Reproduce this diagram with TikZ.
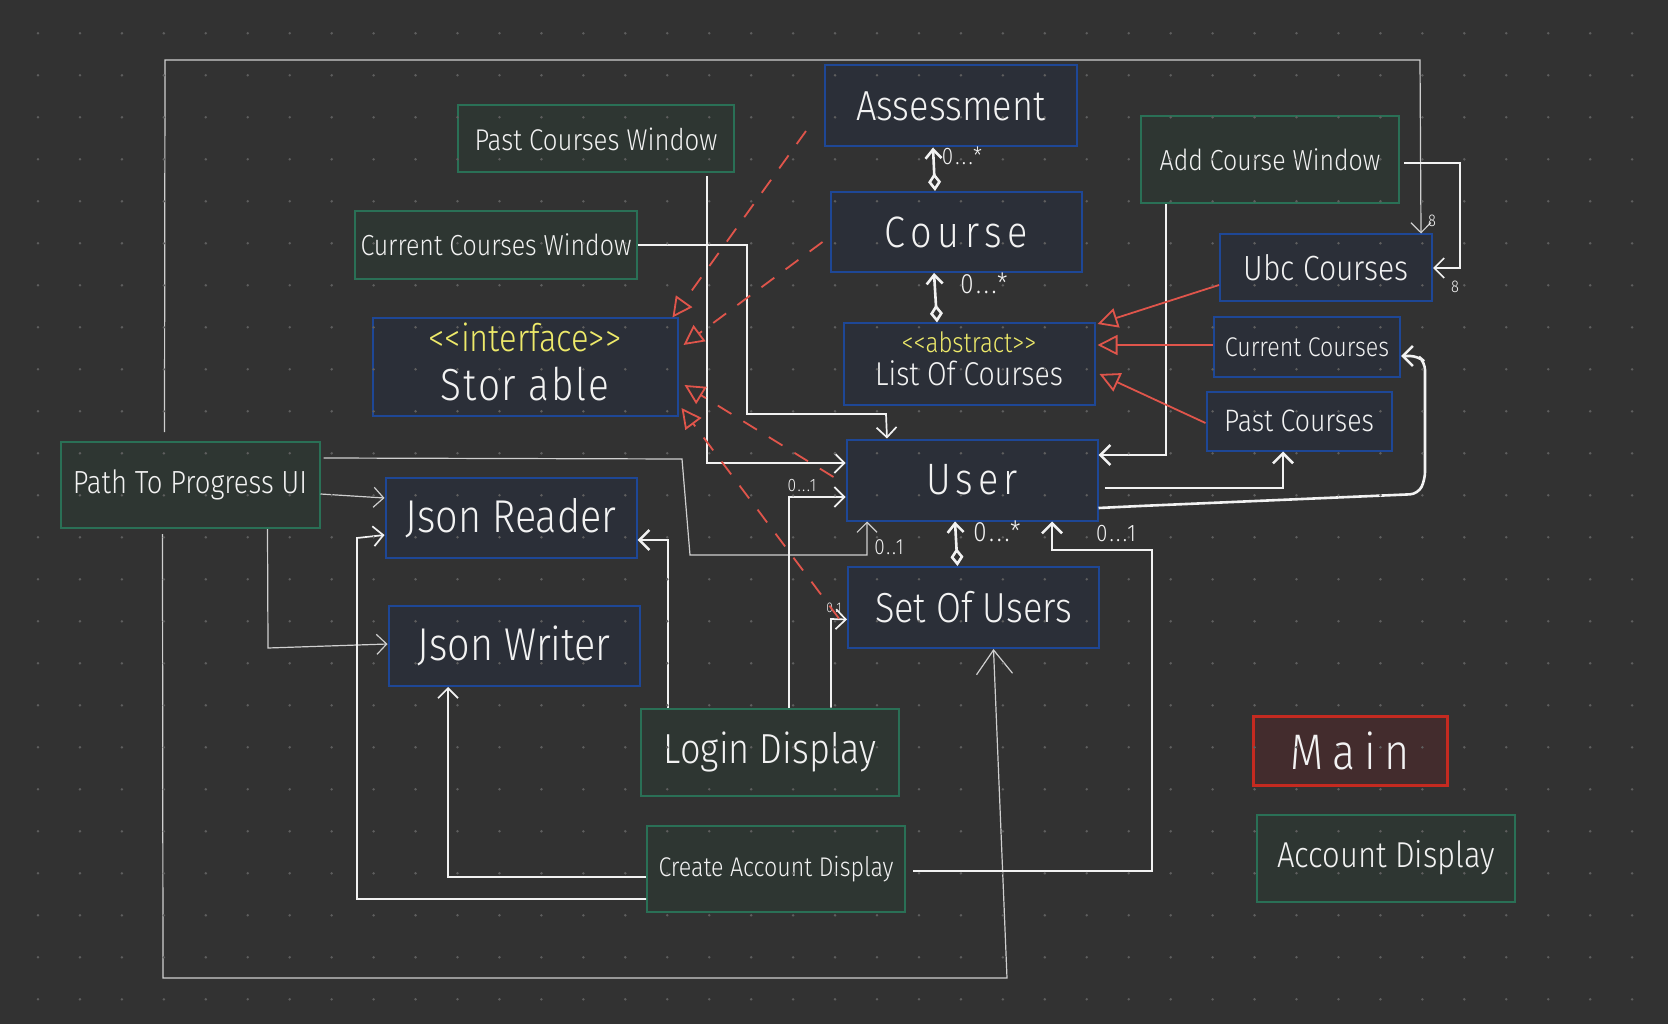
\documentclass[tikz,border=0pt]{standalone}
\usepackage{fontspec}
\setmainfont{Fira Sans Light}[FakeStretch=0.86]
\usetikzlibrary{arrows.meta}
\definecolor{bgc}{HTML}{323232}
\definecolor{dotc}{HTML}{5E5E5E}
\definecolor{blueF}{HTML}{2B2F38}
\definecolor{blueB}{HTML}{1E4796}
\definecolor{greenF}{HTML}{2E3632}
\definecolor{greenB}{HTML}{2A7056}
\definecolor{redF}{HTML}{432C2D}
\definecolor{redB}{HTML}{C52A20}
\definecolor{inkc}{HTML}{F2F2F2}
\definecolor{grayln}{HTML}{CFCFCF}
\definecolor{realc}{HTML}{E0554B}
\definecolor{yelc}{HTML}{EEEA6A}
\newcommand\hsz[1]{\fontsize{#1}{#1}\selectfont}
\newcommand\lsp[1]{\addfontfeature{LetterSpace=#1}}
\begin{document}
\begin{tikzpicture}[x=1pt,y=-1pt,
  box/.style={rectangle, line width=2pt, inner sep=0pt, text=inkc, align=center},
  cls/.style={box, draw=blueB, fill=blueF},
  gui/.style={box, draw=greenB, fill=greenF},
  mainbox/.style={box, draw=redB, fill=redF, line width=3pt},
  wire/.style={draw=inkc, line width=1.7pt},
  fine/.style={draw=grayln, line width=1.2pt},
  heavy/.style={draw=inkc, line width=2.6pt},
  realize/.style={draw=realc, line width=1.8pt, dash pattern=on 16pt off 14pt},
  inherit/.style={draw=realc, line width=1.8pt},
  opn/.style={-{Straight Barb[length=10pt,width=20pt]}},
  tri/.style={-{Triangle[open,length=20pt,width=20pt,line width=1.8pt]}},
  agg/.style={{Diamond[open,length=18pt,width=13pt]}-{Straight Barb[length=9pt,width=16pt]}},
  mult/.style={text=inkc, inner sep=0pt},
]
\fill[bgc] (0,0) rectangle (1668,1024);
\useasboundingbox (0,0) rectangle (1668,1024);

% classes
\node[cls, minimum width=252pt, minimum height=81pt, font=\hsz{42}] (asm) at (951,106) {Assessment};
\node[cls, minimum width=251pt, minimum height=80pt, font=\hsz{44}\lsp{13}] (crs) at (956,232) {Course};
\node[cls, minimum width=251pt, minimum height=81pt, font=\hsz{33}] (loc) at (969,364) {{\color{yelc}\hsz{28}<{}<abstract>{}>}\\[0pt]List Of Courses\rule[-10pt]{0pt}{10pt}};
\node[cls, minimum width=251pt, minimum height=81pt, font=\hsz{44}\lsp{11}] (usr) at (972,480) {User};
\node[cls, minimum width=251pt, minimum height=81pt, font=\hsz{42}] (sou) at (973.5,607.5) {Set Of Users};
\node[cls, minimum width=212pt, minimum height=67pt, font=\hsz{35}] (ubc) at (1326,268) {Ubc Courses};
\node[cls, minimum width=186pt, minimum height=60pt, font=\hsz{27}] (cur) at (1307,347) {Current Courses};
\node[cls, minimum width=185pt, minimum height=59pt, font=\hsz{31}] (pst) at (1299,421) {Past Courses};
\node[cls, minimum width=305pt, minimum height=97pt, font=\hsz{45}\lsp{4}] (sto) at (525,367) {{\color{yelc}\hsz{38}\lsp{0}<{}<interface>{}>}\\[4pt]Stor able\rule[-10pt]{0pt}{10pt}};
\node[cls, minimum width=251pt, minimum height=80pt, font=\hsz{46}] (jr) at (511,518) {Json Reader};
\node[cls, minimum width=251pt, minimum height=80pt, font=\hsz{46}] (jw) at (514,646) {Json Writer};

% gui
\node[gui, minimum width=258pt, minimum height=87pt, font=\hsz{29}] (acw) at (1270,160) {Add Course Window};
\node[gui, minimum width=276pt, minimum height=67pt, font=\hsz{30}] (pcw) at (596,139) {Past Courses Window};
\node[gui, minimum width=282pt, minimum height=68pt, font=\hsz{29}] (ccw) at (496,245) {Current Courses Window};
\node[gui, minimum width=259pt, minimum height=86pt, font=\hsz{32}] (ptp) at (190,485) {Path To Progress UI};
\node[gui, minimum width=258pt, minimum height=87pt, font=\hsz{42}] (ld) at (770,752) {Login Display};
\node[gui, minimum width=258pt, minimum height=86pt, font=\hsz{27}] (cad) at (776,869) {Create Account Display};
\node[gui, minimum width=258pt, minimum height=87pt, font=\hsz{36}] (ad) at (1386,858) {Account Display};
\node[mainbox, minimum width=194pt, minimum height=69pt, font=\hsz{50}\lsp{18}] (main) at (1350,751) {Main};

% frame connectors
\draw[fine, opn] ([xshift=105pt,yshift=9pt]ptp.north west) -- (165,60) -- (1420,60) -- ([xshift=-12pt]ubc.north east);
\node[mult, font=\hsz{17}] (n8a) at (1432,221) {8};
\draw[fine, -{Straight Barb[length=24pt,width=36pt]}] ([xshift=103pt,yshift=-5pt]ptp.south west) -- (163,978) -- (1007,978) -- ([xshift=20pt]sou.south);
\draw[fine, opn] ([yshift=-9pt]ptp.east) -- ([yshift=20pt]jr.west);
\draw[fine, opn] ([xshift=208pt]ptp.south west) -- (268,648) -- ([yshift=2pt]jw.west);
\draw[fine, opn] ([xshift=3pt,yshift=-17pt]ptp.north east) -- (682,459) -- (690,555) -- (867,555) -- ([xshift=-105pt]usr.south);
\node[mult, font=\hsz{22}\lsp{8}] (m01a) at (889,547) {0..1};

% windows
\draw[wire, opn] ([xshift=111pt,yshift=-3pt]pcw.south) -- (707,463) -- ([yshift=17pt]usr.west);
\draw[wire, opn] (ccw.east) -- (747,245) -- (747,414) -- (886,414) -- ([xshift=-85pt]usr.north);
\draw[wire, opn] ([xshift=4pt,yshift=-3pt]acw.east) -- (1460,163) -- (1460,268) -- (ubc.east);
\node[mult, font=\hsz{17}] (n8b) at (1455,287) {8};
\draw[heavy, opn] ([xshift=-104pt]acw.south) -- (1166,455) -- ([yshift=25pt]usr.east);

% user associations
\draw[heavy, opn] ([xshift=6pt,yshift=-8pt]usr.east) -- (1283,488) -- ([xshift=-16pt]pst.south);
\draw[heavy, opn, rounded corners=8pt] ([yshift=-28pt]usr.east) -- (1140,506) -- (1418,494) -- (1425,480) -- (1425,362) -- (1418,356) -- ([yshift=-9pt]cur.east);

% aggregations
\draw[heavy, agg] ([xshift=-21pt]crs.north) -- ([xshift=-18pt]asm.south);
\node[mult, font=\hsz{24}\lsp{10}] (m1) at (962,156) {0...*};
\draw[heavy, agg] ([xshift=-32pt]loc.north) -- ([xshift=-22pt]crs.south);
\node[mult, font=\hsz{28}\lsp{10}] (m2) at (984,283) {0...*};
\draw[heavy, agg] ([xshift=-16pt]sou.north) -- ([xshift=-17pt]usr.south);
\node[mult, font=\hsz{28}\lsp{10}] (m3) at (997,531) {0...*};

% displays
\draw[heavy, opn] ([xshift=7pt,yshift=-2pt]cad.east) -- (1152,871) -- (1152,550) -- (1052,550) -- ([xshift=80pt]usr.south);
\node[mult, font=\hsz{24}\lsp{10}] (m4) at (1116,534) {0...1};
\draw[heavy, opn] ([xshift=-102pt]ld.north) -- (668,540) -- ([yshift=-22pt]jr.east);
\draw[wire, opn] ([xshift=19pt]ld.north) -- (789,497) -- ([yshift=-17pt]usr.west);
\node[mult, font=\hsz{18}\lsp{8}] (m5) at (802,486) {0...1};
\draw[wire, opn] ([xshift=61pt]ld.north) -- (831,619) -- ([yshift=-12pt]sou.west);
\node[mult, font=\hsz{14}] (m6) at (834,608) {0..1};
\draw[wire, opn] ([yshift=-8pt]cad.west) -- (448,877) -- ([xshift=-66pt]jw.south);
\draw[wire, opn] ([yshift=-30pt]cad.west) -- (357,899) -- (357,538) -- ([yshift=-17pt]jr.west);

% realizations
\draw[realize, tri] ([xshift=-18pt,yshift=-25pt]asm.west) -- ([xshift=-6pt]sto.north east);
\draw[realize, tri] ([xshift=-7pt,yshift=-10pt]crs.west) -- ([xshift=5pt,yshift=22pt]sto.east);
\draw[realize, tri] ([xshift=-12pt,yshift=3pt]usr.west) -- ([xshift=6pt,yshift=-18pt]sto.east);
\draw[realize, tri] ([xshift=-8pt,yshift=-11pt]sou.west) -- ([xshift=3pt,yshift=-41pt]sto.east);

% inheritance
\draw[inherit, tri] ([yshift=-17pt]ubc.west) -- ([xshift=2pt,yshift=40pt]loc.east);
\draw[inherit, tri] ([yshift=2pt]cur.west) -- ([xshift=2pt,yshift=19pt]loc.east);
\draw[inherit, tri] ([yshift=-2pt]pst.west) -- ([xshift=4pt,yshift=-10pt]loc.east);

% dot grid
\foreach \i in {0,...,38} \foreach \j in {0,...,23}
  \fill[dotc] (38+41.95*\i, 33.3+42*\j) circle (1.4pt);
\end{tikzpicture}
\end{document}
